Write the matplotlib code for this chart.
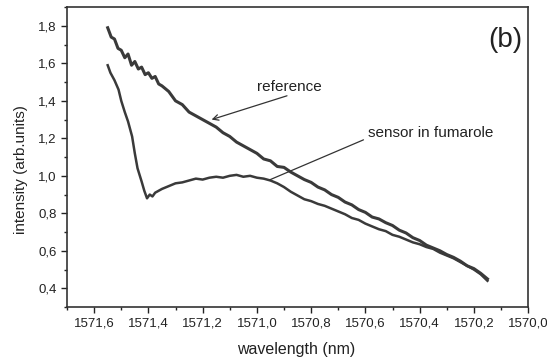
import matplotlib.pyplot as plt
from matplotlib.ticker import MultipleLocator, FuncFormatter

plt.rcParams["font.family"] = ["Liberation Sans", "DejaVu Sans"]

# reference curve (wavelength nm, intensity arb. units)
ref_wl = [1571.550, 1571.537, 1571.525, 1571.512, 1571.500, 1571.487, 1571.475, 1571.462,
          1571.450, 1571.437, 1571.425, 1571.412, 1571.400, 1571.387, 1571.375, 1571.362,
          1571.350, 1571.325, 1571.300, 1571.275, 1571.250, 1571.225, 1571.200, 1571.175,
          1571.150, 1571.125, 1571.100, 1571.075, 1571.050, 1571.025, 1571.000, 1570.975,
          1570.950, 1570.925, 1570.900, 1570.875, 1570.850, 1570.825, 1570.800, 1570.775,
          1570.750, 1570.725, 1570.700, 1570.675, 1570.650, 1570.625, 1570.600, 1570.575,
          1570.550, 1570.525, 1570.500, 1570.475, 1570.450, 1570.425, 1570.400, 1570.375,
          1570.350, 1570.325, 1570.300, 1570.275, 1570.250, 1570.225, 1570.200, 1570.175,
          1570.150]
ref_int = [1.79, 1.74, 1.73, 1.68, 1.67, 1.63, 1.65, 1.59,
           1.61, 1.57, 1.58, 1.54, 1.55, 1.52, 1.53, 1.49,
           1.48, 1.45, 1.40, 1.38, 1.34, 1.32, 1.30, 1.28,
           1.26, 1.23, 1.21, 1.18, 1.16, 1.14, 1.12, 1.09,
           1.08, 1.05, 1.045, 1.02, 1.00, 0.98, 0.965, 0.94,
           0.925, 0.90, 0.885, 0.86, 0.845, 0.82, 0.805, 0.78,
           0.77, 0.75, 0.735, 0.71, 0.695, 0.67, 0.655, 0.63,
           0.615, 0.60, 0.58, 0.565, 0.545, 0.52, 0.505, 0.48,
           0.45]

# sensor in fumarole
sen_wl = [1571.550, 1571.540, 1571.525, 1571.510, 1571.500, 1571.487, 1571.475, 1571.460,
          1571.450, 1571.440, 1571.425, 1571.415, 1571.405, 1571.395, 1571.385, 1571.375,
          1571.350, 1571.325, 1571.300, 1571.275, 1571.250, 1571.225, 1571.200, 1571.175,
          1571.150, 1571.125, 1571.100, 1571.075, 1571.050, 1571.025, 1571.000, 1570.975,
          1570.950, 1570.925, 1570.900, 1570.875, 1570.850, 1570.825, 1570.800, 1570.775,
          1570.750, 1570.725, 1570.700, 1570.675, 1570.650, 1570.625, 1570.600, 1570.575,
          1570.550, 1570.525, 1570.500, 1570.475, 1570.450, 1570.425, 1570.400, 1570.375,
          1570.350, 1570.325, 1570.300, 1570.275, 1570.250, 1570.225, 1570.200, 1570.175,
          1570.150]
sen_int = [1.59, 1.55, 1.51, 1.46, 1.40, 1.34, 1.29, 1.21,
           1.12, 1.04, 0.97, 0.92, 0.88, 0.90, 0.89, 0.91,
           0.93, 0.945, 0.96, 0.965, 0.975, 0.985, 0.98, 0.99,
           0.995, 0.99, 1.00, 1.005, 0.995, 1.00, 0.99, 0.985,
           0.975, 0.96, 0.94, 0.915, 0.895, 0.875, 0.865, 0.85,
           0.84, 0.825, 0.81, 0.795, 0.775, 0.765, 0.745, 0.73,
           0.715, 0.705, 0.685, 0.675, 0.66, 0.645, 0.635, 0.62,
           0.61, 0.59, 0.575, 0.56, 0.54, 0.52, 0.50, 0.475,
           0.44]

line_col = "#3a3a3a"
text_col = "#222222"

fig = plt.figure(figsize=(5.47, 3.57), dpi=100)
ax = fig.add_axes([0.1225, 0.14, 0.843, 0.84])

ax.plot(ref_wl, ref_int, color=line_col, lw=2.2)
ax.plot(sen_wl, sen_int, color=line_col, lw=1.8)

ax.set_xlim(1571.70, 1570.0)
ax.set_ylim(0.3, 1.9)
ax.xaxis.set_major_locator(MultipleLocator(0.2))
ax.xaxis.set_minor_locator(MultipleLocator(0.1))
ax.yaxis.set_major_locator(MultipleLocator(0.2))
ax.yaxis.set_minor_locator(MultipleLocator(0.1))
comma = FuncFormatter(lambda v, p: f"{v:.1f}".replace(".", ","))
ax.xaxis.set_major_formatter(comma)
ax.yaxis.set_major_formatter(comma)
ax.tick_params(which="major", direction="out", length=4, width=1, labelsize=9.5, colors=text_col)
ax.tick_params(which="minor", direction="out", length=2.5, width=1, colors=text_col)
for s in ax.spines.values():
    s.set_color("#333333")
    s.set_linewidth(1.2)

ax.set_xlabel("wavelength (nm)", fontsize=11.5, color=text_col)
ax.set_ylabel("intensity (arb.units)", fontsize=11, color=text_col)
ax.xaxis.set_label_coords(0.497, -0.118)
ax.yaxis.set_label_coords(-0.085, 0.457)

ax.text(1570.881, 1.475, "reference", fontsize=11, ha="center", va="center", color=text_col)
ax.annotate("", xy=(1571.167, 1.30), xytext=(1570.889, 1.427),
            arrowprops=dict(arrowstyle="->", color="#333333", lw=0.9,
                            shrinkA=0, shrinkB=0))
ax.text(1570.359, 1.229, "sensor in fumarole", fontsize=11, ha="center", va="center",
        color=text_col)
ax.annotate("", xy=(1570.952, 0.979), xytext=(1570.607, 1.192),
            arrowprops=dict(arrowstyle="-", color="#333333", lw=0.9,
                            shrinkA=0, shrinkB=0))
ax.text(0.987, 0.935, "(b)", transform=ax.transAxes, fontsize=20,
        ha="right", va="top", color=text_col)

plt.savefig("out.png", dpi=100)
